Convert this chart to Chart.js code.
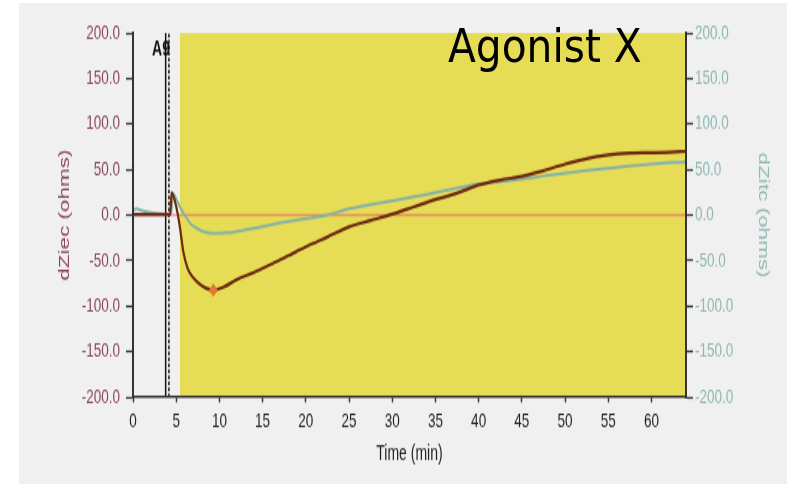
<!DOCTYPE html>
<html>
<head>
<meta charset="utf-8">
<script src="https://cdn.jsdelivr.net/npm/chart.js@4.4.1/dist/chart.umd.min.js"></script>
<style>
  html, body { margin: 0; padding: 0; background: #fff; }
  body { width: 793px; height: 487px; position: relative; overflow: hidden; }
  #panel { position: absolute; left: 19px; top: 3px; width: 768px; height: 481px; background: #f0f0f0; }
  #tag { position: absolute; left: 448px; top: 22px; font-family: "DejaVu Sans", sans-serif; font-size: 47px; line-height: 47px; color: #000; transform: scaleX(0.866); transform-origin: 0 0; white-space: nowrap; }
</style>
</head>
<body>
<!-- the original screenshot is stretched vertically, so the canvas is too -->
<div id="panel"><canvas id="impedanceChart" width="768" height="321" style="display:block;width:768px;height:481px"></canvas></div>
<div id="tag">Agonist X</div>
<script>
// dZiec (left axis)
const ziecTime = [0, 1, 2, 3, 4, 4.3, 4.47, 4.86, 5.2, 5.44, 5.82, 6.3, 6.9, 7.6, 8.4, 9.29, 10.5, 12, 14, 16, 18, 20, 22.5, 25, 27.5, 30, 32.5, 35, 37.5, 40, 42.5, 45, 47.5, 50, 52.5, 55, 57.5, 60, 62, 64];
const ziecValues = [0.5, 0.5, 0.5, 0.5, 0.5, 1, 24.5, 15, 0, -14, -40, -58, -68, -75, -80, -82.5, -79, -71, -63, -54, -44.5, -35, -24, -13, -6, 1, 9, 17, 24, 33, 38.5, 42.5, 48.8, 56, 62, 66, 68, 68.5, 69, 70];

// dZitc (right axis)
const zitcTime = [0, 0.4, 1, 2, 3, 4, 4.4, 4.66, 5, 5.44, 6, 6.6, 7.3, 8.1, 9.6, 11, 12, 14, 15.8, 18, 20.8, 22.5, 25, 27.5, 30, 32.5, 35, 37.5, 40, 42.5, 45, 47.5, 50, 52.5, 55, 57.5, 60, 62, 64];
const zitcValues = [5, 7, 5, 3, 1.5, 1, 1, 24, 18, 9, 0, -9, -14, -18, -20, -19.5, -18, -14.5, -11, -7, -3, 0, 7, 11.5, 15.5, 20, 24.5, 29.5, 34, 36.6, 39.5, 43, 46, 49, 51.5, 54, 56, 57.5, 58.5];

// minimum marker on dZiec
const minMarkerTime = [9.29];
const minMarkerValue = [-82.5];

// events: solid line, dashed line (A9), shaded stimulus period
const eventTimes = [3.78, 4.16];
const eventLabels = ['A9'];
const shadeTime = [5.44, 64];

const zeroLineTime = [0, 64];
const zeroLineValue = [0, 0];

const toPoints = (xs, ys) => xs.map((x, i) => ({ x: x, y: ys[i] }));
const vLine = t => [{ x: t, y: -200 }, { x: t, y: 200 }];

const FONT = '"Liberation Sans", Arial, sans-serif';
const LEFT_COLOR = '#8a4556';
const RIGHT_COLOR = '#8db7b2';

const eventLabel = {
  id: 'eventLabel',
  beforeDatasetsDraw(chart) {
    const { ctx, chartArea } = chart;
    const x = chart.scales.x;
    ctx.save();
    ctx.font = 'bold 14px ' + FONT;
    ctx.fillStyle = '#111';
    ctx.textAlign = 'right';
    ctx.textBaseline = 'alphabetic';
    ctx.fillText(eventLabels[0], x.getPixelForValue(eventTimes[1]) + 1, chartArea.top + 15);
    ctx.restore();
  }
};

const ctx = document.getElementById('impedanceChart').getContext('2d');
const impedanceChart = new Chart(ctx, {
  type: 'line',
  data: {
    datasets: [
      {
        label: 'marker',
        data: toPoints(minMarkerTime, minMarkerValue),
        yAxisID: 'y',
        showLine: false,
        pointStyle: 'rectRot',
        pointRadius: 4,
        pointBackgroundColor: '#e27a2a',
        pointBorderColor: '#e27a2a',
        order: 1
      },
      {
        label: 'dZiec',
        data: toPoints(ziecTime, ziecValues),
        yAxisID: 'y',
        borderColor: '#6e2a10',
        borderWidth: 2.2,
        cubicInterpolationMode: 'monotone',
        order: 2
      },
      {
        label: 'dZitc',
        data: toPoints(zitcTime, zitcValues),
        yAxisID: 'y1',
        borderColor: '#86b3a4',
        borderWidth: 2,
        cubicInterpolationMode: 'monotone',
        order: 3
      },
      {
        label: 'zero',
        data: toPoints(zeroLineTime, zeroLineValue),
        yAxisID: 'y',
        borderColor: 'rgba(215, 70, 95, 0.5)',
        borderWidth: 1.5,
        order: 5
      },
      {
        label: 'event',
        data: vLine(eventTimes[0]),
        yAxisID: 'y',
        borderColor: '#111',
        borderWidth: 1.5,
        order: 6
      },
      {
        label: 'A9',
        data: vLine(eventTimes[1]),
        yAxisID: 'y',
        borderColor: '#111',
        borderWidth: 1.5,
        borderDash: [2.5, 1.5],
        order: 7
      },
      {
        label: 'shade',
        data: toPoints(shadeTime, [200, 200]),
        yAxisID: 'y',
        borderWidth: 0,
        backgroundColor: '#e7dc56',
        fill: 'start',
        order: 10
      }
    ]
  },
  options: {
    responsive: false,
    devicePixelRatio: 1,
    animation: false,
    layout: { padding: { top: 20, left: 0, right: 0, bottom: 0 } },
    plugins: { legend: { display: false }, tooltip: { enabled: false } },
    elements: { point: { radius: 0 }, line: { tension: 0 } },
    scales: {
      x: {
        type: 'linear',
        min: 0,
        max: 64,
        afterFit: s => { s.height = 58; },
        ticks: { stepSize: 5, includeBounds: false, padding: 4.5, color: '#222', maxRotation: 0, autoSkip: false, font: { family: FONT, size: 13.5 } },
        grid: { drawOnChartArea: false, drawTicks: true, tickLength: 3.5, tickColor: '#333', tickWidth: 1.5 },
        border: { display: true, color: '#333', width: 1.4, z: 1 },
        title: { display: true, text: 'Time (min)', color: '#222', font: { family: FONT, size: 14 }, padding: { top: 0, bottom: 11 } }
      },
      y: {
        position: 'left',
        min: -200,
        max: 200,
        afterFit: s => { s.width = 114; },
        ticks: { stepSize: 50, padding: 6, color: LEFT_COLOR, font: { family: FONT, size: 13.5 }, callback: v => v.toFixed(1) },
        grid: { drawOnChartArea: false, drawTicks: true, tickLength: 7, tickColor: '#333', tickWidth: 1.3 },
        border: { display: true, color: '#333', width: 2, z: 1 },
        title: { display: true, text: 'dZiec (ohms)', color: LEFT_COLOR, font: { family: FONT, size: 15 }, padding: { top: 37, bottom: 0 } }
      },
      y1: {
        position: 'right',
        min: -200,
        max: 200,
        afterFit: s => { s.width = 101; },
        ticks: { stepSize: 50, padding: 2, color: RIGHT_COLOR, font: { family: FONT, size: 13.5 }, callback: v => v.toFixed(1) },
        grid: { drawOnChartArea: false, drawTicks: true, tickLength: 7, tickColor: '#333', tickWidth: 1.3 },
        border: { display: true, color: '#333', width: 2, z: 1 },
        title: { display: true, text: 'dZitc (ohms)', color: RIGHT_COLOR, font: { family: FONT, size: 15 }, padding: { top: 15, bottom: 0 } }
      }
    }
  },
  plugins: [eventLabel]
});
</script>
</body>
</html>
